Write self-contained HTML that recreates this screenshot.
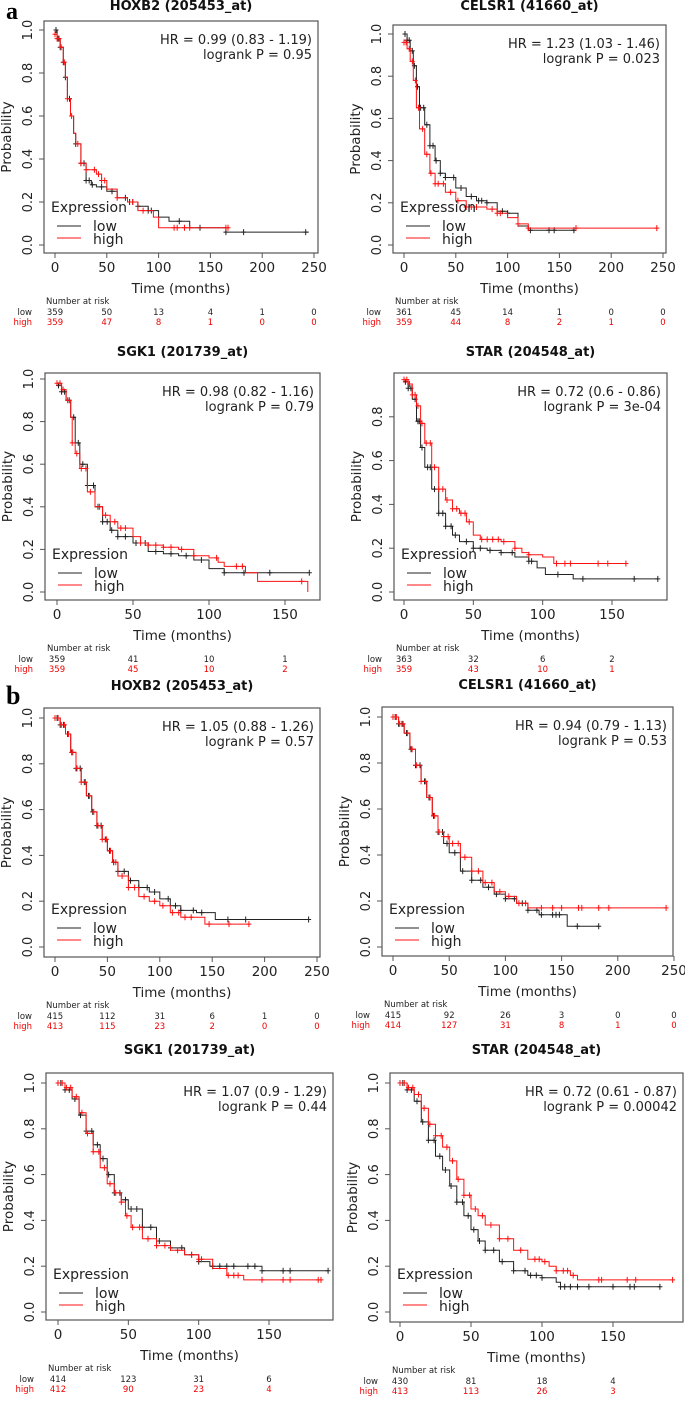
<!DOCTYPE html>
<html><head><meta charset="utf-8">
<style>
html,body{margin:0;padding:0;background:#fff;}
svg{display:block;}
text{font-family:"DejaVu Sans","Liberation Sans",sans-serif;}
</style></head>
<body>
<svg id="fig" width="685" height="1402" viewBox="0 0 685 1402" xmlns="http://www.w3.org/2000/svg">
<text x="6" y="19" style="font-family:'Liberation Serif',serif" font-weight="bold" font-size="24">a</text>
<text x="6" y="704" style="font-family:'Liberation Serif',serif" font-weight="bold" font-size="26">b</text>
</svg>
<script>
// ---------- data ----------
const A1_LOW_T=[0,2,5,8,10,12,15,18,20,25,30,35,40,50,60,70,80,90,100,110,130,165,245];
const A1_LOW_S=[1,0.96,0.92,0.85,0.78,0.68,0.6,0.52,0.47,0.38,0.3,0.28,0.27,0.25,0.22,0.2,0.18,0.16,0.13,0.11,0.08,0.06,0.06];
const A1_HIGH_T=[0,2,5,8,10,12,15,18,20,25,30,40,45,50,60,70,80,95,100,168];
const A1_HIGH_S=[0.98,0.96,0.92,0.85,0.78,0.68,0.6,0.52,0.47,0.38,0.35,0.33,0.3,0.26,0.22,0.2,0.16,0.13,0.08,0.08];
const A1_LOW_C=[1,3,5,8,10,14,20,25,28,30,33,36,45,55,68,72,75,80,90,93,120,140,165,182,242];
const A1_HIGH_C=[0,2,4,6,9,12,16,22,25,30,38,42,45,48,60,75,85,115,118,125,130,165,167];
const A1_NAR_T=[0,50,100,150,200,250];
const A1_NAR_LOW=[359,50,13,4,1,0];
const A1_NAR_HIGH=[359,47,8,1,0,0];

const A2_LOW_T=[0,3,6,9,12,15,20,25,30,35,40,50,60,70,80,90,100,110,120,165];
const A2_LOW_S=[1,0.97,0.92,0.85,0.75,0.65,0.57,0.47,0.4,0.34,0.32,0.27,0.23,0.21,0.2,0.16,0.15,0.09,0.07,0.07];
const A2_HIGH_T=[0,3,6,9,12,15,20,25,30,40,50,60,70,80,90,100,110,120,244];
const A2_HIGH_S=[0.96,0.93,0.87,0.78,0.65,0.55,0.43,0.34,0.29,0.25,0.21,0.18,0.18,0.17,0.15,0.13,0.1,0.08,0.08];
const A2_LOW_C=[1,3,5,8,10,13,16,19,22,25,28,31,35,40,48,55,65,72,75,80,95,100,122,140,145,164];
const A2_HIGH_C=[0,2,5,8,11,14,18,22,26,30,33,38,45,52,60,65,70,85,90,93,110,120,166,244];
const A2_NAR_T=[0,50,100,150,200,250];
const A2_NAR_LOW=[361,45,14,1,0,0];
const A2_NAR_HIGH=[359,44,8,2,1,0];

const A3_LOW_T=[0,3,6,9,12,15,20,25,30,35,40,50,60,70,80,90,100,110,165];
const A3_LOW_S=[0.97,0.94,0.9,0.82,0.7,0.6,0.5,0.4,0.33,0.29,0.26,0.23,0.19,0.18,0.17,0.15,0.11,0.09,0.09];
const A3_HIGH_T=[0,3,6,9,10,12,15,20,25,30,35,40,50,55,60,70,80,90,100,106,110,120,124,132,164,165];
const A3_HIGH_S=[0.98,0.95,0.9,0.82,0.7,0.65,0.58,0.47,0.4,0.36,0.33,0.3,0.26,0.23,0.22,0.21,0.2,0.17,0.16,0.14,0.12,0.12,0.09,0.05,0.05,0];
const A3_LOW_C=[1,3,5,8,11,14,17,20,24,27,30,33,36,40,45,52,58,65,75,85,95,110,123,140,166];
const A3_HIGH_C=[0,2,4,7,10,13,16,19,22,28,32,38,42,45,55,60,65,70,75,82,90,105,118,122,161];
const A3_NAR_T=[0,50,100,150];
const A3_NAR_LOW=[359,41,10,1];
const A3_NAR_HIGH=[359,45,10,2];

const A4_LOW_T=[0,3,6,9,12,15,20,25,30,35,40,50,60,70,80,90,96,102,122,183];
const A4_LOW_S=[0.96,0.93,0.88,0.78,0.66,0.57,0.47,0.36,0.3,0.26,0.23,0.2,0.19,0.18,0.16,0.14,0.11,0.08,0.06,0.06];
const A4_HIGH_T=[0,3,6,9,12,15,20,25,30,35,40,45,50,55,60,70,80,85,90,100,108,160];
const A4_HIGH_S=[0.97,0.95,0.9,0.85,0.77,0.68,0.57,0.47,0.42,0.38,0.36,0.32,0.26,0.24,0.24,0.23,0.2,0.18,0.17,0.16,0.13,0.13];
const A4_LOW_C=[1,3,5,8,10,11,13,17,19,22,25,28,30,34,37,45,50,55,62,70,78,90,92,111,129,166,183];
const A4_HIGH_C=[0,2,4,6,8,10,13,16,19,22,25,28,31,35,38,41,44,47,56,60,64,68,72,80,90,110,116,120,140,147,160];
const A4_NAR_T=[0,50,100,150];
const A4_NAR_LOW=[363,32,6,2];
const A4_NAR_HIGH=[359,43,10,1];

const B1_LOW_T=[0,5,10,15,20,25,30,35,40,45,50,55,60,70,80,90,100,110,120,135,153,243];
const B1_LOW_S=[1,0.97,0.93,0.85,0.78,0.72,0.66,0.59,0.53,0.47,0.42,0.37,0.33,0.29,0.26,0.24,0.21,0.18,0.16,0.15,0.12,0.12];
const B1_HIGH_T=[0,5,10,15,20,25,30,35,40,45,50,55,60,70,80,90,100,110,120,143,185];
const B1_HIGH_S=[1,0.97,0.93,0.85,0.78,0.72,0.66,0.59,0.53,0.47,0.42,0.37,0.31,0.26,0.22,0.2,0.18,0.15,0.13,0.1,0.1];
const B1_LOW_C=[2,5,8,12,16,20,24,28,32,36,40,44,48,52,56,60,66,72,80,88,95,108,115,120,132,140,165,182,242];
const B1_HIGH_C=[0,3,6,9,13,17,21,25,29,33,37,41,45,49,53,58,64,70,76,85,95,103,112,118,124,130,147,166,185];
const B1_NAR_T=[0,50,100,150,200,250];
const B1_NAR_LOW=[415,112,31,6,1,0];
const B1_NAR_HIGH=[413,115,23,2,0,0];

const B2_LOW_T=[0,5,10,15,20,25,30,35,40,45,50,60,70,80,90,100,110,120,130,155,183];
const B2_LOW_S=[1,0.97,0.93,0.86,0.79,0.72,0.65,0.57,0.5,0.45,0.41,0.33,0.29,0.26,0.23,0.21,0.19,0.16,0.14,0.09,0.09];
const B2_HIGH_T=[0,5,10,15,20,25,30,35,40,45,50,60,70,80,90,100,110,120,243];
const B2_HIGH_S=[1,0.97,0.93,0.86,0.79,0.72,0.65,0.57,0.5,0.48,0.45,0.39,0.33,0.28,0.24,0.22,0.19,0.17,0.17];
const B2_LOW_C=[2,5,8,12,16,20,24,28,32,36,40,44,48,55,62,70,78,85,92,100,108,115,120,128,132,142,145,148,164,183];
const B2_HIGH_C=[0,3,6,9,13,17,21,25,29,33,37,41,45,49,53,58,64,70,76,82,88,95,103,112,118,132,142,150,165,168,183,192,243];
const B2_NAR_T=[0,50,100,150,200,250];
const B2_NAR_LOW=[415,92,26,3,0,0];
const B2_NAR_HIGH=[414,127,31,8,1,0];

const B3_LOW_T=[0,5,10,15,20,25,30,35,40,45,50,60,70,80,90,100,108,145,192];
const B3_LOW_S=[1,0.97,0.93,0.86,0.79,0.73,0.67,0.6,0.52,0.49,0.45,0.37,0.31,0.28,0.25,0.22,0.2,0.18,0.18];
const B3_HIGH_T=[0,5,10,15,20,25,30,35,40,45,48,52,60,70,80,90,100,110,120,132,187];
const B3_HIGH_S=[1,0.98,0.94,0.87,0.78,0.7,0.63,0.56,0.52,0.48,0.42,0.37,0.32,0.29,0.27,0.25,0.23,0.19,0.16,0.14,0.14];
const B3_LOW_C=[2,5,8,12,16,20,24,28,32,36,40,44,48,52,56,60,66,72,80,88,95,100,110,115,120,125,135,140,145,160,165,192];
const B3_HIGH_C=[0,3,6,9,13,17,21,25,29,33,37,41,45,49,53,58,64,70,76,85,95,100,102,121,125,128,145,160,165,185,187];
const B3_NAR_T=[0,50,100,150];
const B3_NAR_LOW=[414,123,31,6];
const B3_NAR_HIGH=[412,90,23,4];

const B4_LOW_T=[0,5,10,15,20,25,30,35,40,45,50,55,60,70,80,90,100,110,113,183];
const B4_LOW_S=[1,0.97,0.92,0.83,0.75,0.68,0.62,0.55,0.48,0.42,0.36,0.31,0.27,0.22,0.18,0.16,0.15,0.13,0.11,0.11];
const B4_HIGH_T=[0,5,10,15,20,25,30,35,40,45,50,55,60,70,80,90,100,105,110,120,125,192];
const B4_HIGH_S=[1,0.98,0.95,0.89,0.82,0.77,0.72,0.66,0.58,0.51,0.45,0.42,0.38,0.32,0.27,0.23,0.22,0.2,0.18,0.16,0.14,0.14];
const B4_LOW_C=[2,5,8,12,16,20,24,28,32,36,40,44,48,52,56,60,66,72,80,88,92,96,100,113,116,120,125,133,150,162,165,183];
const B4_HIGH_C=[0,3,6,9,13,17,21,25,29,33,37,41,45,49,53,58,64,70,76,85,95,98,102,110,115,118,122,140,142,160,166,192];
const B4_NAR_T=[0,50,100,150];
const B4_NAR_LOW=[430,81,18,4];
const B4_NAR_HIGH=[413,113,26,3];

// ---------- drawing ----------
const NS='http://www.w3.org/2000/svg';
const svg=document.getElementById('fig');
function mk(tag,attrs,parent){const e=document.createElementNS(NS,tag);for(const k in attrs)e.setAttribute(k,attrs[k]);(parent||svg).appendChild(e);return e;}
function txt(parent,x,y,s,attrs){const e=mk('text',Object.assign({x:x,y:y},attrs||{}),parent);e.textContent=s;return e;}
function stepAt(T,S,t){let v=S[0];for(let i=0;i<T.length;i++){if(T[i]<=t)v=S[i];else break;}return v;}

function panel(c){
  const g=mk('g',{});
  
  
  const X=t=>c.x0+t*(c.xr-c.x0)/c.xrv;
  const Y=s=>c.y0+s*(c.y1-c.y0);
  const tt=txt(g,(c.bl+c.br)/2,c.ty+4,c.title,{'text-anchor':'middle','font-weight':'bold','font-size':'13',fill:'#111'});
  
  
  const box=mk('rect',{x:c.bl,y:c.bt,width:c.br-c.bl,height:c.bb-c.bt,fill:'none',stroke:'#555','stroke-width':1.2},g);
  
  
  c.yt.forEach(v=>{
    const y=Y(v);
    mk('line',{x1:c.bl-5,x2:c.bl,y1:y,y2:y,stroke:'#555'},g);
    const lx=c.bl-12;
    const l=txt(g,lx,y,v.toFixed(1),{'text-anchor':'middle','font-size':'13',fill:'#222',transform:`rotate(-90 ${lx} ${y})`});
    
    
  });
  const yl=c.bl-33, ym=(c.bt+c.bb)/2;
  const ylab=txt(g,yl,ym,'Probability',{'text-anchor':'middle','font-size':'13.5',fill:'#222',transform:`rotate(-90 ${yl} ${ym})`});
  
  
  c.xt.forEach(v=>{
    const x=X(v);
    mk('line',{x1:x,x2:x,y1:c.bb,y2:c.bb+5,stroke:'#555'},g);
    const l=txt(g,x,c.bb+19,String(v),{'text-anchor':'middle','font-size':'13.5',fill:'#222'});
    
    
  });
  const xlab=txt(g,(c.bl+c.br)/2,c.bb+40,'Time (months)',{'text-anchor':'middle','font-size':'13.5',fill:'#222'});
  
  
  const hr=txt(g,c.br-6,c.bt+23,c.hr,{'text-anchor':'end','font-size':'13',fill:'#222'});
  
  
  const lp=txt(g,c.br-6,c.bt+38,c.p,{'text-anchor':'end','font-size':'13',fill:'#222'});
  
  
  [[c.lT,c.lS,c.lC,'#222','low'],[c.hT,c.hS,c.hC,'#f11','high']].forEach(([T,S,C,col,nm])=>{
    let d=`M${X(T[0]).toFixed(1)},${Y(S[0]).toFixed(1)}`;
    for(let i=1;i<T.length;i++)d+=`H${X(T[i]).toFixed(1)}V${Y(S[i]).toFixed(1)}`;
    const p=mk('path',{d:d,fill:'none',stroke:col,'stroke-width':1},g);
    
    
    let cd='';
    C.forEach(t=>{const x=X(t),y=Y(stepAt(T,S,t));cd+=`M${(x-2.5).toFixed(1)},${y.toFixed(1)}h5M${x.toFixed(1)},${(y-3).toFixed(1)}v6`;});
    const cm=mk('path',{d:cd,fill:'none',stroke:col,'stroke-width':1},g);
    
    
  });
  const lg=mk('g',{},g);
  
  
  txt(lg,c.bl+7,c.y0-33,'Expression',{'font-size':'14',fill:'#222'});
  mk('line',{x1:c.bl+13,x2:c.bl+37,y1:c.y0-19,y2:c.y0-19,stroke:'#222'},lg);
  txt(lg,c.bl+49,c.y0-14,'low',{'font-size':'14',fill:'#222'});
  mk('line',{x1:c.bl+13,x2:c.bl+37,y1:c.y0-7,y2:c.y0-7,stroke:'#f11'},lg);
  txt(lg,c.bl+49,c.y0-1,'high',{'font-size':'14',fill:'#222'});
  const nr=mk('g',{},g);
  
  
  txt(nr,c.bl+2,c.bb+51,'Number at risk',{'font-size':'8.5',fill:'#222'});
  txt(nr,c.bl-12,c.bb+62,'low',{'text-anchor':'end','font-size':'8.5',fill:'#222'});
  txt(nr,c.bl-12,c.bb+72,'high',{'text-anchor':'end','font-size':'8.5',fill:'#e00'});
  c.nT.forEach((t,i)=>{
    txt(nr,X(t),c.bb+62,String(c.nL[i]),{'text-anchor':'middle','font-size':'8.5',fill:'#222'});
    txt(nr,X(t),c.bb+72,String(c.nH[i]),{'text-anchor':'middle','font-size':'8.5',fill:'#e00'});
  });
}
const Y5=[0,0.2,0.4,0.6,0.8,1.0], Y4=[0,0.2,0.4,0.6,0.8];
const X250=[0,50,100,150,200,250], X150=[0,50,100,150];
panel({id:'panel-a-hoxb2',title:'HOXB2 (205453_at)',ty:6,bl:44,br:318,bt:21,bb:253,x0:55,xr:314,xrv:250,y1:30,y0:245,yt:Y5,xt:X250,hr:'HR = 0.99 (0.83 - 1.19)',p:'logrank P = 0.95',lT:A1_LOW_T,lS:A1_LOW_S,hT:A1_HIGH_T,hS:A1_HIGH_S,lC:A1_LOW_C,hC:A1_HIGH_C,nT:A1_NAR_T,nL:A1_NAR_LOW,nH:A1_NAR_HIGH});
panel({id:'panel-a-celsr1',title:'CELSR1 (41660_at)',ty:6,bl:393,br:666,bt:25,bb:253,x0:404,xr:663,xrv:250,y1:34,y0:245,yt:Y5,xt:X250,hr:'HR = 1.23 (1.03 - 1.46)',p:'logrank P = 0.023',lT:A2_LOW_T,lS:A2_LOW_S,hT:A2_HIGH_T,hS:A2_HIGH_S,lC:A2_LOW_C,hC:A2_HIGH_C,nT:A2_NAR_T,nL:A2_NAR_LOW,nH:A2_NAR_HIGH});
panel({id:'panel-a-sgk1',title:'SGK1 (201739_at)',ty:352,bl:45,br:320,bt:373,bb:600,x0:57,xr:285,xrv:150,y1:379,y0:592,yt:Y5,xt:X150,hr:'HR = 0.98 (0.82 - 1.16)',p:'logrank P = 0.79',lT:A3_LOW_T,lS:A3_LOW_S,hT:A3_HIGH_T,hS:A3_HIGH_S,lC:A3_LOW_C,hC:A3_HIGH_C,nT:A3_NAR_T,nL:A3_NAR_LOW,nH:A3_NAR_HIGH});
panel({id:'panel-a-star',title:'STAR (204548_at)',ty:352,bl:394,br:667,bt:373,bb:600,x0:404,xr:612,xrv:150,y1:373,y0:592,yt:Y4,xt:X150,hr:'HR = 0.72 (0.6 - 0.86)',p:'logrank P = 3e-04',lT:A4_LOW_T,lS:A4_LOW_S,hT:A4_HIGH_T,hS:A4_HIGH_S,lC:A4_LOW_C,hC:A4_HIGH_C,nT:A4_NAR_T,nL:A4_NAR_LOW,nH:A4_NAR_HIGH});
panel({id:'panel-b-hoxb2',title:'HOXB2 (205453_at)',ty:686,bl:44,br:320,bt:708,bb:957,x0:55,xr:317,xrv:250,y1:718,y0:947,yt:Y5,xt:X250,hr:'HR = 1.05 (0.88 - 1.26)',p:'logrank P = 0.57',lT:B1_LOW_T,lS:B1_LOW_S,hT:B1_HIGH_T,hS:B1_HIGH_S,lC:B1_LOW_C,hC:B1_HIGH_C,nT:B1_NAR_T,nL:B1_NAR_LOW,nH:B1_NAR_HIGH});
panel({id:'panel-b-celsr1',title:'CELSR1 (41660_at)',ty:685,bl:382,br:673,bt:707,bb:956,x0:393,xr:674,xrv:250,y1:717,y0:947,yt:Y5,xt:X250,hr:'HR = 0.94 (0.79 - 1.13)',p:'logrank P = 0.53',lT:B2_LOW_T,lS:B2_LOW_S,hT:B2_HIGH_T,hS:B2_HIGH_S,lC:B2_LOW_C,hC:B2_HIGH_C,nT:B2_NAR_T,nL:B2_NAR_LOW,nH:B2_NAR_HIGH});
panel({id:'panel-b-sgk1',title:'SGK1 (201739_at)',ty:1050,bl:46,br:333,bt:1073,bb:1320,x0:58,xr:269,xrv:150,y1:1083,y0:1312,yt:Y5,xt:X150,hr:'HR = 1.07 (0.9 - 1.29)',p:'logrank P = 0.44',lT:B3_LOW_T,lS:B3_LOW_S,hT:B3_HIGH_T,hS:B3_HIGH_S,lC:B3_LOW_C,hC:B3_HIGH_C,nT:B3_NAR_T,nL:B3_NAR_LOW,nH:B3_NAR_HIGH});
panel({id:'panel-b-star',title:'STAR (204548_at)',ty:1050,bl:390,br:683,bt:1073,bb:1322,x0:400,xr:613,xrv:150,y1:1083,y0:1312,yt:Y5,xt:X150,hr:'HR = 0.72 (0.61 - 0.87)',p:'logrank P = 0.00042',lT:B4_LOW_T,lS:B4_LOW_S,hT:B4_HIGH_T,hS:B4_HIGH_S,lC:B4_LOW_C,hC:B4_HIGH_C,nT:B4_NAR_T,nL:B4_NAR_LOW,nH:B4_NAR_HIGH});
</script>
</body></html>
